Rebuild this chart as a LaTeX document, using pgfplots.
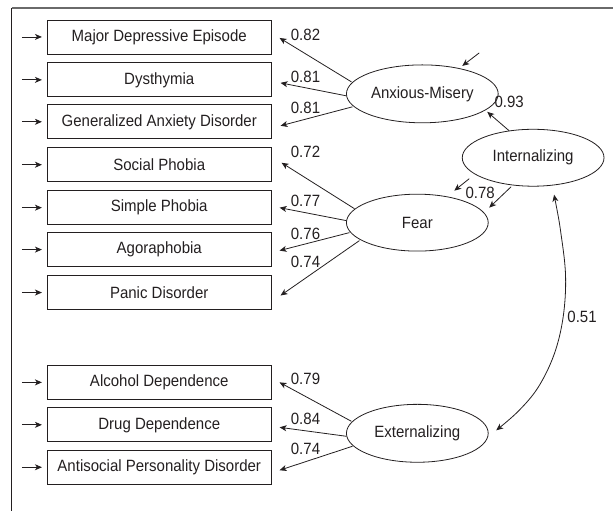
\documentclass[border=0pt]{standalone}
\usepackage{pgfplots}
\pgfplotsset{compat=1.18}
\usepackage{fontspec}
\setmainfont{Liberation Sans}[FakeStretch=0.92]
\usetikzlibrary{arrows.meta,shapes.geometric}
\definecolor{ink}{HTML}{231F20}
\definecolor{framegray}{HTML}{6A6A6A}
\begin{document}
\begin{tikzpicture}[
  box/.style={draw=ink, line width=0.8bp, minimum width=225bp, minimum height=34bp, inner sep=0pt, text=ink, font=\fontsize{16.4}{19}\selectfont},
  lat/.style={draw=ink, line width=0.8bp, ellipse, inner sep=0pt, text=ink, font=\fontsize{16.4}{19}\selectfont},
  val/.style={text=ink, inner sep=0pt, font=\fontsize{16.4}{19}\selectfont},
  arr/.style={ink, line width=0.8bp, -{Stealth[length=7bp,width=6bp,inset=2bp]}},
]
\begin{axis}[
  scale only axis, width=614bp, height=512bp,
  xmin=0, xmax=614, ymin=0, ymax=512, y dir=reverse,
  hide axis, clip=false,
]
% page extent
\path (axis cs:0,0) rectangle (axis cs:614,512);
% frame
\addplot[framegray, line width=2bp] coordinates {(12,8) (614,8)};
\addplot[ink, line width=1bp] coordinates {(12,8) (12,512)};

% observed variables
\node[box] at (axis cs:159.5,37) {Major Depressive Episode};
\node[box] at (axis cs:159.5,80) {Dysthymia};
\node[box] at (axis cs:159.5,122) {Generalized Anxiety Disorder};
\node[box] at (axis cs:159.5,165) {Social Phobia};
\node[box] at (axis cs:159.5,208) {Simple Phobia};
\node[box] at (axis cs:159.5,250) {Agoraphobia};
\node[box] at (axis cs:159.5,293) {Panic Disorder};
\node[box] at (axis cs:159.5,383) {Alcohol Dependence};
\node[box] at (axis cs:159.5,425.5) {Drug Dependence};
\node[box] at (axis cs:159.5,468) {Antisocial Personality Disorder};

% error arrows into boxes
\addplot[arr] coordinates {(22,37) (42,37)};
\addplot[arr] coordinates {(22,80) (42,80)};
\addplot[arr] coordinates {(22,122) (42,122)};
\addplot[arr] coordinates {(22,165) (42,165)};
\addplot[arr] coordinates {(22,208) (42,208)};
\addplot[arr] coordinates {(22,250) (42,250)};
\addplot[arr] coordinates {(22,293) (42,293)};
\addplot[arr] coordinates {(22,383) (42,383)};
\addplot[arr] coordinates {(22,425.5) (42,425.5)};
\addplot[arr] coordinates {(22,468) (42,468)};

% latent variables
\node[lat, minimum width=152bp, minimum height=58bp] at (axis cs:423,94) {Anxious-Misery};
\node[lat, minimum width=142bp, minimum height=57bp] at (axis cs:534,158) {Internalizing};
\node[lat, minimum width=142bp, minimum height=57bp] at (axis cs:418,223) {Fear};
\node[lat, minimum width=142bp, minimum height=58bp] at (axis cs:418,434) {Externalizing};

% loadings: Anxious-Misery
\addplot[arr] coordinates {(352,82) (280,38)};
\addplot[arr] coordinates {(347,96) (281,83)};
\addplot[arr] coordinates {(353,107) (281,126)};
\node[val] at (axis cs:306,35) {0.82};
\node[val] at (axis cs:306,77) {0.81};
\node[val] at (axis cs:306,108) {0.81};

% loadings: Fear
\addplot[arr] coordinates {(355,209) (282,163)};
\addplot[arr] coordinates {(347,221) (280,208)};
\addplot[arr] coordinates {(350,233) (280,251)};
\addplot[arr] coordinates {(360,241) (281,296)};
\node[val] at (axis cs:306,152) {0.72};
\node[val] at (axis cs:306,201) {0.77};
\node[val] at (axis cs:306,234) {0.76};
\node[val] at (axis cs:306,262) {0.74};

% loadings: Externalizing
\addplot[arr] coordinates {(352,422) (280,383)};
\addplot[arr] coordinates {(347,437) (280,428)};
\addplot[arr] coordinates {(353,447) (280,471)};
\node[val] at (axis cs:306,379) {0.79};
\node[val] at (axis cs:306,420) {0.84};
\node[val] at (axis cs:306,450) {0.74};

% higher-order paths
\addplot[arr] coordinates {(510,131) (488,112)};
\addplot[arr] coordinates {(512,187) (490,208)};
\node[val] at (axis cs:510,102) {0.93};
\node[val] at (axis cs:481,193) {0.78};

% residual arrows on latent factors
\addplot[arr] coordinates {(480,53) (463,66)};
\addplot[arr] coordinates {(470,179) (455,191)};

% correlation Internalizing <-> Externalizing
\addplot[ink, line width=0.8bp, smooth, tension=0.6, {Stealth[length=7bp,width=6bp,inset=2bp]}-{Stealth[length=7bp,width=6bp,inset=2bp]}]
  coordinates {(555,195) (562,235) (566.5,277) (564,318) (555,355) (539,388) (519,412) (497,431)};
\node[val] at (axis cs:583,317) {0.51};
\end{axis}
\end{tikzpicture}
\end{document}
